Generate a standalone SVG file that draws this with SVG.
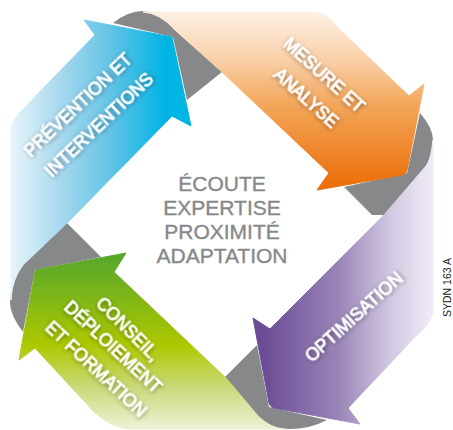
<svg xmlns="http://www.w3.org/2000/svg" width="453" height="430" viewBox="0 0 453 430">
<style>
.lbl{font-family:"Liberation Sans",Arial,sans-serif;font-size:17.5px;fill:#fff;text-anchor:middle;dominant-baseline:central;filter:url(#sh);stroke:#fff;stroke-width:.7px}
.ctr{font-family:"Liberation Sans",Arial,sans-serif;font-size:21px;fill:#87888a;stroke:#87888a;stroke-width:.35px;text-anchor:middle}
.band{fill:#87888a}
.arrow{stroke-width:1;stroke-linejoin:round}
</style>
<defs>
<filter id="sh" x="-20%" y="-80%" width="140%" height="260%"><feDropShadow dx="1" dy="1" stdDeviation="2" flood-color="#000" flood-opacity=".45"/></filter>
<linearGradient id="gb" gradientUnits="userSpaceOnUse" x1="10" y1="0" x2="165" y2="0"><stop offset="0" stop-color="#e8f5fb"/><stop offset=".33" stop-color="#a6d8ee"/><stop offset=".65" stop-color="#62c3e6"/><stop offset="1" stop-color="#00b4e4"/></linearGradient>
<linearGradient id="go" gradientUnits="userSpaceOnUse" x1="0" y1="11" x2="0" y2="190"><stop offset="0" stop-color="#fdf1e6"/><stop offset=".28" stop-color="#f9cfa6"/><stop offset=".52" stop-color="#f3a65a"/><stop offset="1" stop-color="#eb6c05"/></linearGradient>
<linearGradient id="gp" gradientUnits="userSpaceOnUse" x1="262" y1="0" x2="433" y2="0"><stop offset="0" stop-color="#6a4b95"/><stop offset=".45" stop-color="#9a85b8"/><stop offset=".75" stop-color="#d2c8e2"/><stop offset="1" stop-color="#f0ecf6"/></linearGradient>
<linearGradient id="gg" gradientUnits="userSpaceOnUse" x1="0" y1="260" x2="0" y2="430"><stop offset="0" stop-color="#5aa829"/><stop offset=".5" stop-color="#aec800"/><stop offset=".75" stop-color="#cbd97a"/><stop offset="1" stop-color="#eef3d8"/></linearGradient>
</defs>
<g id="connectors">
<path class="band" d="M113 23Q128 11 143 11Q160 13 175 30L222 72L187 100L173 37Z"/>
<path class="band" d="M420 113Q433 128 433 140Q433 155 426 166L384 215L372 215L344 187L407 173Z"/>
<path class="band" d="M257 345L222 380L258 416Q270 429 290 429Q310 429 327 420L269 407Z"/>
<path class="band" d="M67 223L101 257L35 270L23 332Q10 315 10 303Q10 285 23 265Z"/>
</g>
<g id="node-prevention">
<path class="arrow" fill="url(#gb)" stroke="url(#gb)" d="M84 20L172 37L191 126L172 116L75 215L67 223L23 265Q12 278 11 300L11 130Q11 122 20 112L95 35Z"/>
<text class="lbl" transform="translate(78 105) rotate(-43.5)">PRÉVENTION ET</text>
<text class="lbl" transform="translate(99 125) rotate(-43.5)">INTERVENTIONS</text>
</g>
<g id="node-mesure">
<path class="arrow" fill="url(#go)" stroke="url(#go)" d="M143 12L314 12Q328 13 337 27L409 96L424 84L407 170Q406 174 402 175L317 190L329 173L222 72L175 30Q160 13 143 12Z"/>
<text class="lbl" transform="translate(324 75) rotate(42)">MESURE ET</text>
<text class="lbl" transform="translate(306 98) rotate(42)">ANALYSE</text>
</g>
<g id="node-optimisation">
<path class="arrow" fill="url(#gp)" stroke="url(#gp)" d="M433 165L433 312Q432 322 417 335L348 408L360 424L274 408Q270 407 269 403L253 318L270 329L372 227L384 215L426 166Q431 160 433 140Z"/>
<text class="lbl" transform="translate(354 317) rotate(-42)">OPTIMISATION</text>
</g>
<g id="node-conseil">
<path class="arrow" fill="url(#gg)" stroke="url(#gg)" d="M36 270L126 253L114 272L227 379L258 416Q270 428 284 429L130 429Q112 428 95 413L35 348L19 360L35 272Z"/>
<text class="lbl" transform="translate(128 329) rotate(45)">CONSEIL,</text>
<text class="lbl" transform="translate(113 347) rotate(43)">DÉPLOIEMENT</text>
<text class="lbl" transform="translate(96 369) rotate(43)">ET FORMATION</text>
</g>
<g id="node-centre">
<text class="ctr" x="222" y="191">ÉCOUTE</text>
<text class="ctr" x="222" y="215">EXPERTISE</text>
<text class="ctr" x="222" y="239">PROXIMITÉ</text>
<text class="ctr" x="222" y="263">ADAPTATION</text>
</g>
<text transform="translate(450.5 317) rotate(-90)" font-family="'Liberation Sans',Arial,sans-serif" font-size="10.5" fill="#1a1a1a">SYDN 163 A</text>
</svg>
